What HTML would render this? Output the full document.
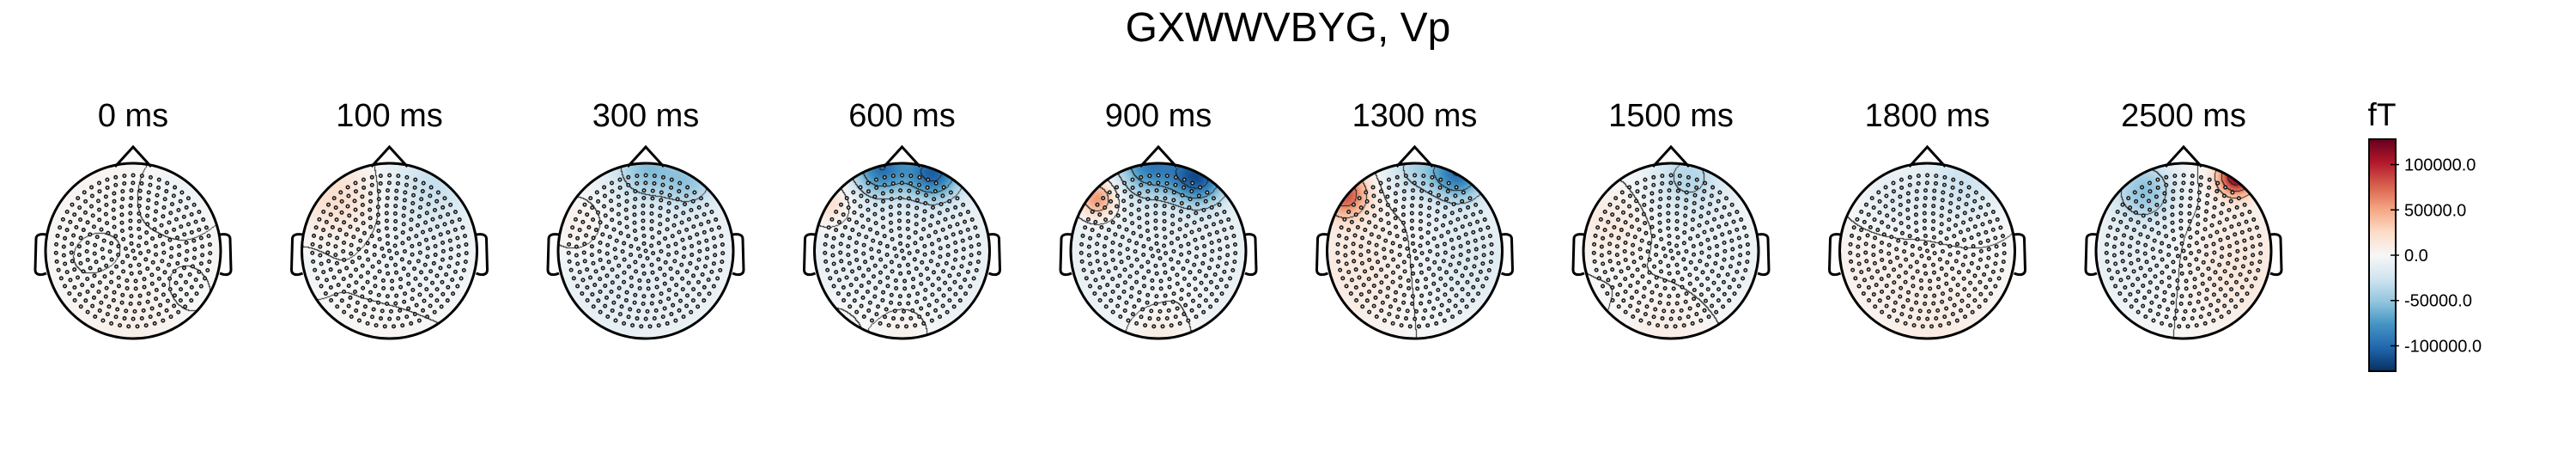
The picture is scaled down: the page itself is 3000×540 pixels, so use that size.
<!DOCTYPE html>
<html><head><meta charset="utf-8">
<style>
html,body{margin:0;padding:0;background:#fff;}
#wrap{position:relative;width:3000px;height:540px;overflow:hidden;background:#fff;font-family:"Liberation Sans",sans-serif;}
canvas{position:absolute;}
svg{position:absolute;left:0;top:0;}
</style></head>
<body>
<div id="wrap">
<svg id="svg" width="3000" height="540">
  <defs>
    <linearGradient id="cbgrad" x1="0" y1="1" x2="0" y2="0">
      <stop offset="0" stop-color="#053061"/><stop offset="0.1" stop-color="#2166ac"/>
      <stop offset="0.2" stop-color="#4393c3"/><stop offset="0.3" stop-color="#92c5de"/>
      <stop offset="0.4" stop-color="#d1e5f0"/><stop offset="0.5" stop-color="#f7f7f7"/>
      <stop offset="0.6" stop-color="#fddbc7"/><stop offset="0.7" stop-color="#f4a582"/>
      <stop offset="0.8" stop-color="#d6604d"/><stop offset="0.9" stop-color="#b2182b"/>
      <stop offset="1" stop-color="#67001f"/>
    </linearGradient>
  </defs>
  <text x="1500" y="48" font-size="48" text-anchor="middle">GXWWVBYG, Vp</text>
  <g id="heads"></g>
  <g>
    <text x="2774" y="146" font-size="37" text-anchor="middle">fT</text>
    <rect x="2759" y="162" width="31" height="270" fill="url(#cbgrad)" stroke="#000" stroke-width="2"/>
    <g id="cbticks"></g>
  </g>
</svg>
</div>
<script>
// ---- chart data ----
const times = ["0 ms","100 ms","300 ms","600 ms","900 ms","1300 ms","1500 ms","1800 ms","2500 ms"];
const baseline = [3000, 1500, -8000, -9000, -9000, 0, -2000, 1000, 0];
const blobX = [
  [0.6,-0.4,0.6,0.0],
  [-0.6,0.5,0.4,-0.95,0.1],
  [0.0,0.5,-0.8,-0.3],
  [-0.25,0.35,-0.85,0.0,-0.8],
  [-0.1,0.45,-0.7,0.0,0.3],
  [-0.8,-0.6,0.5,0.0,0.6],
  [0.2,-0.7,0.0,0.6],
  [0.4,-0.4,0.1,-0.6],
  [0.6,0.6,-0.45,-0.6]
];
const blobY = [
  [-0.7,0.1,0.5,0.9],
  [-0.6,-0.8,0.0,0.2,0.9],
  [-0.95,-0.8,-0.3,0.4],
  [-0.95,-0.9,-0.55,0.95,0.85],
  [-1.0,-0.85,-0.6,1.0,0.4],
  [-0.65,0.2,-0.9,-0.95,0.1],
  [-0.85,-0.3,0.9,0.2],
  [-0.8,-0.6,0.9,0.2],
  [-0.85,0.2,-0.7,0.1]
];
const blobAmp = [
  [-9000,-4000,-5000,5000],
  [22000,-28000,-8000,-6000,3000],
  [-45000,-38000,15000,-5000],
  [-85000,-95000,30000,14000,12000],
  [-80000,-100000,65000,20000,5000],
  [80000,14000,-90000,-35000,-18000],
  [-35000,15000,12000,-6000],
  [-28000,-14000,10000,6000],
  [115000,15000,-50000,-12000]
];
const blobW = [
  [0.35,0.4,0.3,0.4],
  [0.3,0.35,0.6,0.2,0.4],
  [0.25,0.22,0.3,0.5],
  [0.22,0.22,0.18,0.3,0.25],
  [0.25,0.22,0.15,0.3,0.2],
  [0.18,0.5,0.22,0.25,0.5],
  [0.3,0.3,0.4,0.5],
  [0.32,0.3,0.4,0.4],
  [0.15,0.5,0.25,0.5]
];
const cbTicks = [100000, 50000, 0, -50000, -100000];
const cbLabels = ["100000.0","50000.0","0.0","-50000.0","-100000.0"];
const vmax = 128000;
const contourLevels = [-96000,-64000,-32000,0,32000,64000,96000];

// ---- layout ----
const x0 = 155, dx = 298.5, cy = 292, R = 102;
const cbTop = 162, cbBot = 432;
const cbY = v => (cbTop+cbBot)/2 - v/vmax*(cbBot-cbTop)/2;
const NS = "http://www.w3.org/2000/svg";
const stops = [[5,48,97],[33,102,172],[67,147,195],[146,197,222],[209,229,240],[247,247,247],[253,219,199],[244,165,130],[214,96,77],[178,24,43],[103,0,31]];
function cmap(v){
  let t = (v/vmax+1)/2; t = Math.max(0,Math.min(1,t))*10;
  const i = Math.min(9,Math.floor(t)), f = t-i;
  const a = stops[i], b = stops[i+1];
  return [a[0]+(b[0]-a[0])*f, a[1]+(b[1]-a[1])*f, a[2]+(b[2]-a[2])*f];
}
// sensor layout (positions only)
const sensors = [];
sensors.push([0,0]);
for(let k=1;k<=10;k++){
  const r = k*0.088; const n = Math.round(2*Math.PI*r/0.1);
  for(let j=0;j<n;j++){ const a = j/n*2*Math.PI + k*0.3; sensors.push([r*Math.cos(a), r*Math.sin(a)*0.98]); }
}
const wrap = document.getElementById('wrap');
const heads = document.getElementById('heads');
function field(h,x,y){
  let v = baseline[h];
  for(let b=0;b<blobAmp[h].length;b++){
    const ddx = x-blobX[h][b], ddy = y-blobY[h][b], w = blobW[h][b];
    v += blobAmp[h][b]*Math.exp(-(ddx*ddx+ddy*ddy)/(2*w*w));
  }
  return v;
}
function lvl(v){ let c=0; for(const l of contourLevels) if(v>l) c++; return c; }
times.forEach((t,h)=>{
  const cx = x0 + dx*h;
  const S = 2*R+4;
  const cv = document.createElement('canvas');
  cv.width = S; cv.height = S;
  cv.style.left = (cx-R-2)+'px'; cv.style.top = (cy-R-2)+'px';
  
  
  wrap.insertBefore(cv, document.getElementById('svg'));
  const ctx = cv.getContext('2d');
  const img = ctx.createImageData(S,S);
  const L = new Int8Array(S*S);
  for(let py=0;py<S;py++) for(let px=0;px<S;px++){
    const nx = (px-R-2)/R, ny = (py-R-2)/R;
    L[py*S+px] = lvl(field(h,nx,ny));
  }
  for(let py=0;py<S;py++) for(let px=0;px<S;px++){
    const nx = (px-R-2)/R, ny = (py-R-2)/R;
    const idx = (py*S+px)*4;
    if(nx*nx+ny*ny>1){ img.data[idx+3]=0; continue; }
    let c = cmap(field(h,nx,ny));
    const l = L[py*S+px];
    if((px+1<S && L[py*S+px+1]!==l) || (py+1<S && L[(py+1)*S+px]!==l)) c=[30,30,30];
    img.data[idx]=c[0]; img.data[idx+1]=c[1]; img.data[idx+2]=c[2]; img.data[idx+3]=255;
  }
  ctx.putImageData(img,0,0);
  const g = document.createElementNS(NS,'g');
  
  
  const lab = document.createElementNS(NS,'text');
  lab.setAttribute('x', cx); lab.setAttribute('y', 147);
  lab.setAttribute('font-size','38'); lab.setAttribute('text-anchor','middle');
  lab.textContent = t;
  
  
  g.appendChild(lab);
  sensors.forEach(s=>{
    const d = document.createElementNS(NS,'circle');
    d.setAttribute('cx', cx+s[0]*R); d.setAttribute('cy', cy+s[1]*R); d.setAttribute('r', 1.8);
    d.setAttribute('fill','#ccc'); d.setAttribute('stroke','#111'); d.setAttribute('stroke-width','1.4');
    
    
    g.appendChild(d);
  });
  const outline = document.createElementNS(NS,'path');
  outline.setAttribute('d',
    `M${cx-R},${cy} A${R},${R} 0 1,1 ${cx+R},${cy} A${R},${R} 0 1,1 ${cx-R},${cy} Z `+
    `M${cx-21},${cy-R+4} L${cx},${cy-121} L${cx+21},${cy-R+4} `+
    `M${cx-R+1},${cy-19} C${cx-108},${cy-20} ${cx-113},${cy-19} ${cx-113},${cy-14} L${cx-114},${cy+22} C${cx-114},${cy+28} ${cx-108},${cy+29} ${cx-R+1},${cy+26} `+
    `M${cx+R-1},${cy-19} C${cx+108},${cy-20} ${cx+113},${cy-19} ${cx+113},${cy-14} L${cx+114},${cy+22} C${cx+114},${cy+28} ${cx+108},${cy+29} ${cx+R-1},${cy+26}`);
  outline.setAttribute('fill','none'); outline.setAttribute('stroke','#000'); outline.setAttribute('stroke-width','3');
  
  
  g.appendChild(outline);
  heads.appendChild(g);
});
const cbt = document.getElementById('cbticks');
cbTicks.forEach((v,i)=>{
  const y = cbY(v);
  const tk = document.createElementNS(NS,'line');
  tk.setAttribute('x1',2784); tk.setAttribute('x2',2794); tk.setAttribute('y1',y); tk.setAttribute('y2',y);
  tk.setAttribute('stroke','#000'); tk.setAttribute('stroke-width','1.5');
  
  
  cbt.appendChild(tk);
  const tx = document.createElementNS(NS,'text');
  tx.setAttribute('x',2800); tx.setAttribute('y',y+7); tx.setAttribute('font-size','20');
  tx.textContent = cbLabels[i];
  
  
  cbt.appendChild(tx);
});
</script>
</body></html>
